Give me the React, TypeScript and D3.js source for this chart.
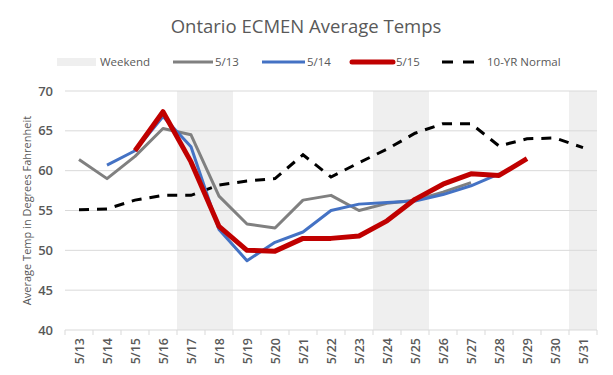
import React from "react";
import * as d3 from "d3";

const categories = ["5/13","5/14","5/15","5/16","5/17","5/18","5/19","5/20","5/21","5/22","5/23","5/24","5/25","5/26","5/27","5/28","5/29","5/30","5/31"];
const weekend = ["5/17","5/18","5/24","5/25","5/31"];
const s513: (number|null)[] = [61.4,59.0,61.8,65.3,64.5,56.8,53.3,52.8,56.3,56.9,55.0,55.9,56.3,57.3,58.5,null,null,null,null];
const s514: (number|null)[] = [null,60.7,62.5,66.8,63.0,52.6,48.7,51.0,52.3,55.0,55.8,56.0,56.2,57.0,58.1,59.6,null,null,null];
const s515: (number|null)[] = [null,null,62.5,67.4,61.1,53.0,50.0,49.9,51.5,51.5,51.8,53.7,56.4,58.3,59.6,59.4,61.5,null,null];
const normal: number[] = [55.1,55.2,56.3,56.9,56.9,58.2,58.7,59.0,62.0,59.2,61.0,62.7,64.7,65.9,65.9,63.1,64.0,64.1,62.9];
const yTicks = [40,45,50,55,60,65,70];

const FONT = "'Open Sans', 'Noto Sans', sans-serif";

export default function App() {
  const W = 613, H = 375;
  const x0 = 65, x1 = 597, yTop = 91, yBot = 330;
  const x = d3.scaleBand<string>().domain(categories).range([x0, x1]).padding(0);
  const y = d3.scaleLinear().domain([40, 70]).range([yBot, yTop]);
  const cx = (c: string) => (x(c) as number) + x.bandwidth() / 2;
  const line = d3.line<number|null>()
    .defined(d => d !== null)
    .x((_, i) => cx(categories[i]))
    .y(d => y(d as number));
  const series = [
    { name: "5/13", data: s513, color: "#808080", w: 3 },
    { name: "5/14", data: s514, color: "#4472c4", w: 3 },
    { name: "5/15", data: s515, color: "#c00000", w: 5 },
  ];
  return (
    <svg width={W} height={H} style={{ position: "absolute", left: 0, top: 0, background: "#fff" }} fontFamily={FONT}>
      <rect x={0} y={0} width={W} height={H} fill="#fff" />
      <text x={306} y={33} textAnchor="middle" fontSize={18.5} fill="#595959">Ontario ECMEN Average Temps</text>
      {/* legend */}
      <g fontSize={11.5} fill="#595959">
        <rect x={57} y={58} width={39} height={8} fill="#efefef" />
        <text x={100} y={66}>Weekend</text>
        <line x1={173} x2={213} y1={62} y2={62} stroke="#808080" strokeWidth={3} />
        <text x={215} y={66}>5/13</text>
        <line x1={262} x2={305} y1={62} y2={62} stroke="#4472c4" strokeWidth={3} />
        <text x={307} y={66}>5/14</text>
        <line x1={352} x2={393} y1={62} y2={62} stroke="#c00000" strokeWidth={5} strokeLinecap="round" />
        <text x={396} y={66}>5/15</text>
        <line x1={442} x2={474} y1={62} y2={62} stroke="#000" strokeWidth={3} strokeDasharray="11,10" />
        <text x={487} y={66}>10-YR Normal</text>
      </g>
      {/* weekend bands */}
      {weekend.map(c => (
        <rect key={c} x={x(c)} y={yTop} width={x.bandwidth()} height={yBot - yTop} fill="#efefef" />
      ))}
      {/* grid */}
      {yTicks.map(t => (
        <g key={t}>
          {t !== 40 && <line x1={x0} x2={x1} y1={y(t)} y2={y(t)} stroke="#d9d9d9" strokeWidth={1} />}
          <text x={53} y={y(t) + 4.5} textAnchor="end" fontSize={13} fontWeight={600} fill="#595959">{t}</text>
        </g>
      ))}
      <text transform={`translate(31,${(yTop + yBot) / 2}) rotate(-90)`} textAnchor="middle" fontSize={11} fill="#595959">Average Temp in Degrees Fahrenheit</text>
      {/* x axis */}
      <line x1={x0} x2={x1} y1={yBot} y2={yBot} stroke="#d9d9d9" />
      {categories.concat(["end"]).map((c, i) => {
        const xx = x0 + i * x.bandwidth();
        return <line key={"t" + i} x1={xx} x2={xx} y1={yBot} y2={yBot + 5} stroke="#d9d9d9" />;
      })}
      {categories.map(c => (
        <text key={c} transform={`translate(${cx(c) + 4.5},338) rotate(-90)`} textAnchor="end" fontSize={12.5} fontWeight={600} fill="#595959">{c}</text>
      ))}
      {/* lines */}
      <path d={line(normal) || ""} fill="none" stroke="#000" strokeWidth={3} strokeDasharray="10,8" />
      {series.map(s => (
        <path key={s.name} d={line(s.data) || ""} fill="none" stroke={s.color} strokeWidth={s.w} strokeLinejoin="round" />
      ))}
    </svg>
  );
}
